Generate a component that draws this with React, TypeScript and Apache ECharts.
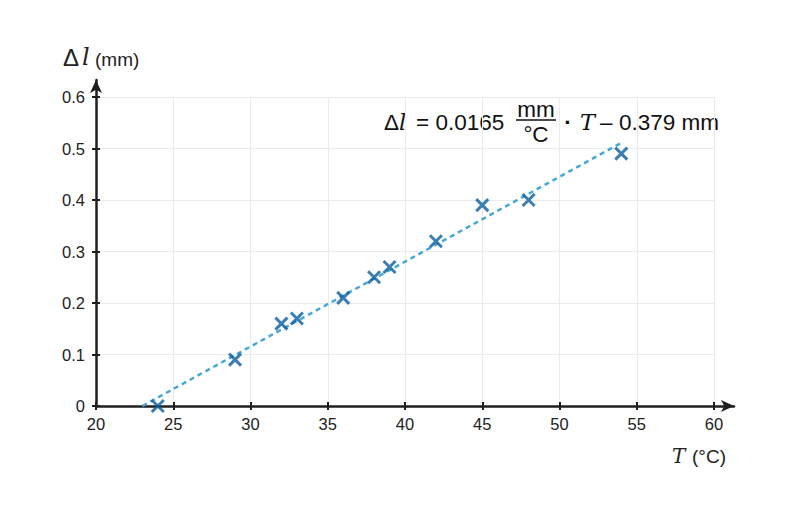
import React, { useEffect, useRef } from "react";
import * as echarts from "echarts";

const temperatures = [24, 29, 32, 33, 36, 38, 39, 42, 45, 48, 54];
const elongations = [0.0, 0.09, 0.16, 0.17, 0.21, 0.25, 0.27, 0.32, 0.39, 0.4, 0.49];
const fitT = [23, 54];
const fitL = [0.0, 0.511];
const xTicks = { min: 20, max: 60, interval: 5 };
const yTicks = { min: 0, max: 0.6, interval: 0.1 };

const AX = "#1f1f1f";
const FONT = "'Liberation Sans', Arial, sans-serif";
const SERIF = "'DejaVu Serif', 'Liberation Serif', serif";
const EQ = 22.5;

export default function App() {
  const ref = useRef<HTMLDivElement>(null);
  useEffect(() => {
    if (!ref.current) return;
    const chart = echarts.init(ref.current, null, { renderer: "svg" });
    const L = 96, R = 86, T = 97, B = 111;
    const pxPerX = (800 - L - R) / (xTicks.max - xTicks.min);
    const pxPerY = (517 - T - B) / (yTicks.max - yTicks.min);
    const R2 = 66, T2 = 80;
    const x2max = xTicks.min + (800 - L - R2) / pxPerX;
    const y2max = yTicks.min + (517 - T2 - B) / pxPerY;
    const tickLbl = (v: number) => (v === 0 ? "0" : String(Math.round(v * 10) / 10));
    const baseX = {
      type: "value",
      gridIndex: 0,
      min: xTicks.min,
      max: xTicks.max,
      interval: xTicks.interval,
      position: "bottom",
      axisLine: { show: false },
    };
    const baseY = {
      type: "value",
      gridIndex: 0,
      min: yTicks.min,
      max: yTicks.max,
      interval: yTicks.interval,
      position: "left",
      axisLine: { show: false },
    };
    const txt = (x: number, y: number, text: string, opts: any = {}) => ({
      type: "text",
      x,
      y,
      style: { text, fontSize: EQ, fontFamily: FONT, fill: "#111", verticalAlign: "middle", ...opts },
    });
    chart.setOption({
      animation: false,
      grid: [
        { left: L, right: R, top: T, bottom: B },
        { left: L, right: R2, top: T2, bottom: B },
      ],
      xAxis: [
        {
          ...baseX,
          axisTick: { show: true, inside: false, length: 4, lineStyle: { color: AX, width: 2 } },
          axisLabel: { color: "#222", fontSize: 16.5, fontFamily: FONT, margin: 9 },
          splitLine: { show: true, lineStyle: { color: "#ebebeb", width: 1 } },
        },
        {
          ...baseX,
          axisTick: { show: true, inside: true, length: 4, lineStyle: { color: AX, width: 2 } },
          axisLabel: { show: false },
          splitLine: { show: false },
        },
        {
          type: "value",
          gridIndex: 1,
          min: xTicks.min,
          max: x2max,
          axisLine: {
            show: true,
            onZero: false,
            symbol: ["none", "arrow"],
            symbolSize: [9, 13],
            lineStyle: { color: AX, width: 2.5 },
          },
          axisTick: { show: false },
          axisLabel: { show: false },
          splitLine: { show: false },
        },
      ],
      yAxis: [
        {
          ...baseY,
          axisTick: { show: true, inside: false, length: 4, lineStyle: { color: AX, width: 2 } },
          axisLabel: { color: "#222", fontSize: 16.5, fontFamily: FONT, margin: 11, formatter: tickLbl },
          splitLine: { show: true, lineStyle: { color: "#ebebeb", width: 1 } },
        },
        {
          ...baseY,
          axisTick: { show: true, inside: true, length: 4, lineStyle: { color: AX, width: 2 } },
          axisLabel: { show: false },
          splitLine: { show: false },
        },
        {
          type: "value",
          gridIndex: 1,
          min: yTicks.min,
          max: y2max,
          axisLine: {
            show: true,
            onZero: false,
            symbol: ["none", "arrow"],
            symbolSize: [9, 13],
            lineStyle: { color: AX, width: 2.5 },
          },
          axisTick: { show: false },
          axisLabel: { show: false },
          splitLine: { show: false },
        },
      ],
      series: [
        {
          type: "line",
          xAxisIndex: 0,
          yAxisIndex: 0,
          data: fitT.map((t, i) => [t, fitL[i]]),
          showSymbol: false,
          lineStyle: { color: "#45a8d6", width: 2.5, type: [5, 4] },
          z: 2,
        },
        {
          type: "scatter",
          xAxisIndex: 0,
          yAxisIndex: 0,
          data: temperatures.map((t, i) => [t, elongations[i]]),
          symbol: "path://M0,0L10,10M10,0L0,10",
          symbolSize: 12,
          itemStyle: { color: "none", borderColor: "#0a5e9e", borderWidth: 3 },
          z: 3,
        },
      ],
      graphic: [
        txt(63, 57, "Δ", { fontSize: 24, fill: "#222" }),
        txt(82, 57, "l", { fontSize: 24, fontFamily: SERIF, fontStyle: "italic", fill: "#222" }),
        txt(95, 59, "(mm)", { fontSize: 19, fill: "#222" }),
        txt(672, 456, "T", { fontSize: 20, fontFamily: SERIF, fontStyle: "italic", fill: "#222" }),
        txt(692, 456, "(°C)", { fontSize: 19, fill: "#222" }),
        txt(384, 122, "Δ"),
        txt(399, 122, "l", { fontFamily: SERIF, fontStyle: "italic" }),
        txt(416, 122, "= 0.0165"),
        txt(536, 109, "mm", { align: "center" }),
        {
          type: "line",
          shape: { x1: 516, y1: 120, x2: 556, y2: 120 },
          style: { stroke: "#111", lineWidth: 1.5 },
        },
        txt(536, 134, "°C", { align: "center" }),
        txt(568, 122, "·", { align: "center", fontWeight: "bold" }),
        txt(580, 122, "T", { fontFamily: SERIF, fontStyle: "italic" }),
        txt(600, 122, "–"),
        txt(619, 122, "0.379 mm"),
      ],
    });
    return () => chart.dispose();
  }, []);
  return <div ref={ref} style={{ width: 800, height: 517, position: "absolute", left: 0, top: 0 }} />;
}
